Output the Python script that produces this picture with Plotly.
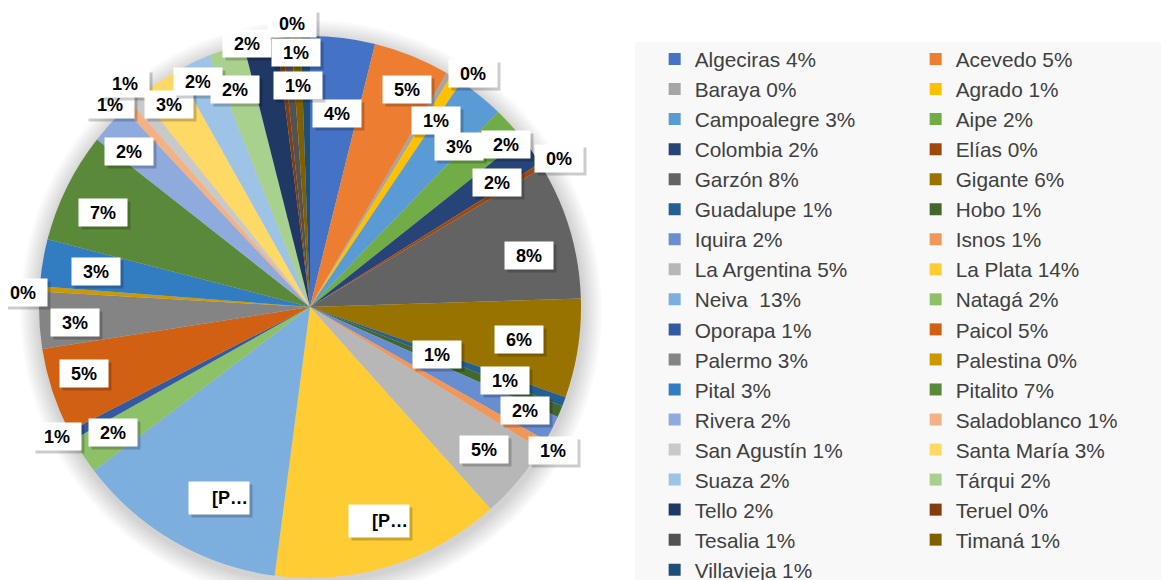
import math
import plotly.graph_objects as go

# ---------------- data ----------------
municipios = ["Algeciras", "Acevedo", "Baraya", "Agrado", "Campoalegre", "Aipe",
              "Colombia", "Elías", "Garzón", "Gigante", "Guadalupe", "Hobo",
              "Iquira", "Isnos", "La Argentina", "La Plata", "Neiva ", "Natagá",
              "Oporapa", "Paicol", "Palermo", "Palestina", "Pital", "Pitalito",
              "Rivera", "Saladoblanco", "San Agustín", "Santa María", "Suaza",
              "Tárqui", "Tello", "Teruel", "Tesalia", "Timaná", "Villavieja"]
valores = [3.86, 4.56, 0.3, 0.7, 2.8, 2.1,
           1.8, 0.3, 8.1, 5.9, 0.55, 0.7,
           1.55, 0.6, 4.6, 13.7, 12.6, 2.2,
           0.55, 5.1, 3.4, 0.3, 2.8, 6.6,
           2.4, 0.55, 0.7, 2.6, 2.1,
           2.1, 2.0, 0.3, 0.55, 0.55, 0.55]
truncados = ["La Plata", "Neiva "]   # labels shown truncated as "[P…"

colores = ["#4472C4", "#ED7D31", "#A5A5A5", "#FFC000", "#5B9BD5", "#70AD47",
           "#264478", "#9E480E", "#636363", "#997300", "#255E91", "#43682B",
           "#698ED0", "#F1975A", "#B7B7B7", "#FFCD33", "#7CAFDD", "#8CC168",
           "#335AA1", "#D26012", "#848484", "#CC9A00", "#327DC2", "#5A8A39",
           "#8FAADC", "#F4B183", "#C9C9C9", "#FFD966", "#9DC3E6", "#A9D18E",
           "#203864", "#843C0C", "#525252", "#7F6000", "#1F4E79"]

# label placement style (radius factor, angular nudge in degrees); None = hidden
label_r = [0.72, 0.88, 1.05, 0.83, 0.81, 0.94, 0.83, 1.07, 0.83, 0.78, 0.50, 0.77,
           0.88, 1.04, 0.83, 0.83, 0.78, 0.86, 1.05, 0.87, 0.87, 1.06, 0.80, 0.84,
           0.88, 1.05, 1.07, 0.91, 0.93, 0.85, 1.00, 1.05, 0.94, 0.82, None]
label_da = [1, 2, 4, 1.5, 4, 2.6, 1.7, 0.6, 3.2, 0, 0, -2,
            -1, 0, -0.7, -0.6, -4.7, 0.7, 1.2, 1.6, -1, -1, 0, -1.7,
            -1.8, -2.5, 0.3, -0.8, -0.8, -1, -2.8, 2.8, 1.8, 0, 0]

# ---------------- geometry ----------------
W, H = 1169, 580
OFF = 8                  # page body margin offset
MR = 523                 # right margin (legend area)
PW = W - MR              # plot-area width in px
CX, CY, R = 310 - OFF, 307 - OFF, 271  # pie centre (figure px) and radius

total = sum(valores)
pcts = [v / total * 100 for v in valores]
pct_txt = [f"{int(p + 0.5)}%" for p in pcts]
legend_labels = [f"{m} {t}" for m, t in zip(municipios, pct_txt)]


def px2paper(px, py):
    return px / PW, (H - py) / H


fig = go.Figure()
fig.add_trace(go.Pie(
    labels=legend_labels,
    values=valores,
    sort=False,
    direction="clockwise",
    rotation=0,
    marker=dict(colors=colores, line=dict(width=0)),
    textinfo="none",
    hoverinfo="label+value",
    domain=dict(x=[(CX - R) / PW, (CX + R) / PW],
                y=[(H - CY - R) / H, (H - CY + R) / H]),
))

# soft shadow behind the pie
shapes = []
for k in range(1, 10):
    rr = R + 2.2 * k
    x0, y0 = px2paper(CX + 1 - rr, CY + 4 + rr)
    x1, y1 = px2paper(CX + 1 + rr, CY + 4 - rr)
    shapes.append(dict(type="circle", xref="paper", yref="paper",
                       x0=x0, y0=y0, x1=x1, y1=y1, layer="below",
                       fillcolor="rgba(0,0,0,0.018)", line=dict(width=0)))
# legend background panel
lx0, ly1 = px2paper(635 - OFF, 42 - OFF)
lx1, ly0 = px2paper(W + 40, H + 20)
shapes.append(dict(type="rect", xref="paper", yref="paper",
                   x0=lx0, x1=lx1, y0=ly0, y1=ly1, layer="below",
                   fillcolor="#F8F8F8", line=dict(width=0)))

# data labels (white boxes with a small shadow)
annotations = []
cum = 0.0
for i, p in enumerate(pcts):
    mid = (cum + p / 2) * 3.6
    cum += p
    if label_r[i] is None:
        continue
    ang = math.radians(mid + label_da[i])
    rad = R * label_r[i]
    px = CX + rad * math.sin(ang)
    py = CY - rad * math.cos(ang)
    xp, yp = px2paper(px, py)
    if municipios[i] in truncados:
        txt, wbox, hbox, al = "[P…", 58, 30, "right"
    else:
        txt, wbox, hbox, al = pct_txt[i], 46, 25, "center"
    common = dict(x=xp, y=yp, xref="paper", yref="paper",
                  xanchor="center", yanchor="middle", showarrow=False,
                  width=wbox, height=hbox, align=al, valign="middle")
    annotations.append(dict(common, text="&nbsp;", xshift=3, yshift=-3,
                            bgcolor="rgba(0,0,0,0.2)",
                            font=dict(family="Liberation Sans", size=18,
                                      color="rgba(0,0,0,0)")))
    annotations.append(dict(common, text=f"<b>{txt}</b>", bgcolor="white",
                            font=dict(family="Liberation Sans", size=18,
                                      color="black")))

fig.update_layout(
    width=W, height=H,
    margin=dict(l=0, r=MR, t=0, b=0, autoexpand=False),
    paper_bgcolor="white",
    plot_bgcolor="white",
    shapes=shapes,
    annotations=annotations,
    showlegend=True,
    legend=dict(
        orientation="h",
        x=1.001, xanchor="left",
        y=(H - 31) / H, yanchor="top",
        entrywidth=216, entrywidthmode="pixels",
        maxheight=570,
        bgcolor="rgba(0,0,0,0)",
        font=dict(family="Liberation Sans", size=20.8, color="#404040"),
        traceorder="normal",
    ),
)

fig.write_html("out.html")
